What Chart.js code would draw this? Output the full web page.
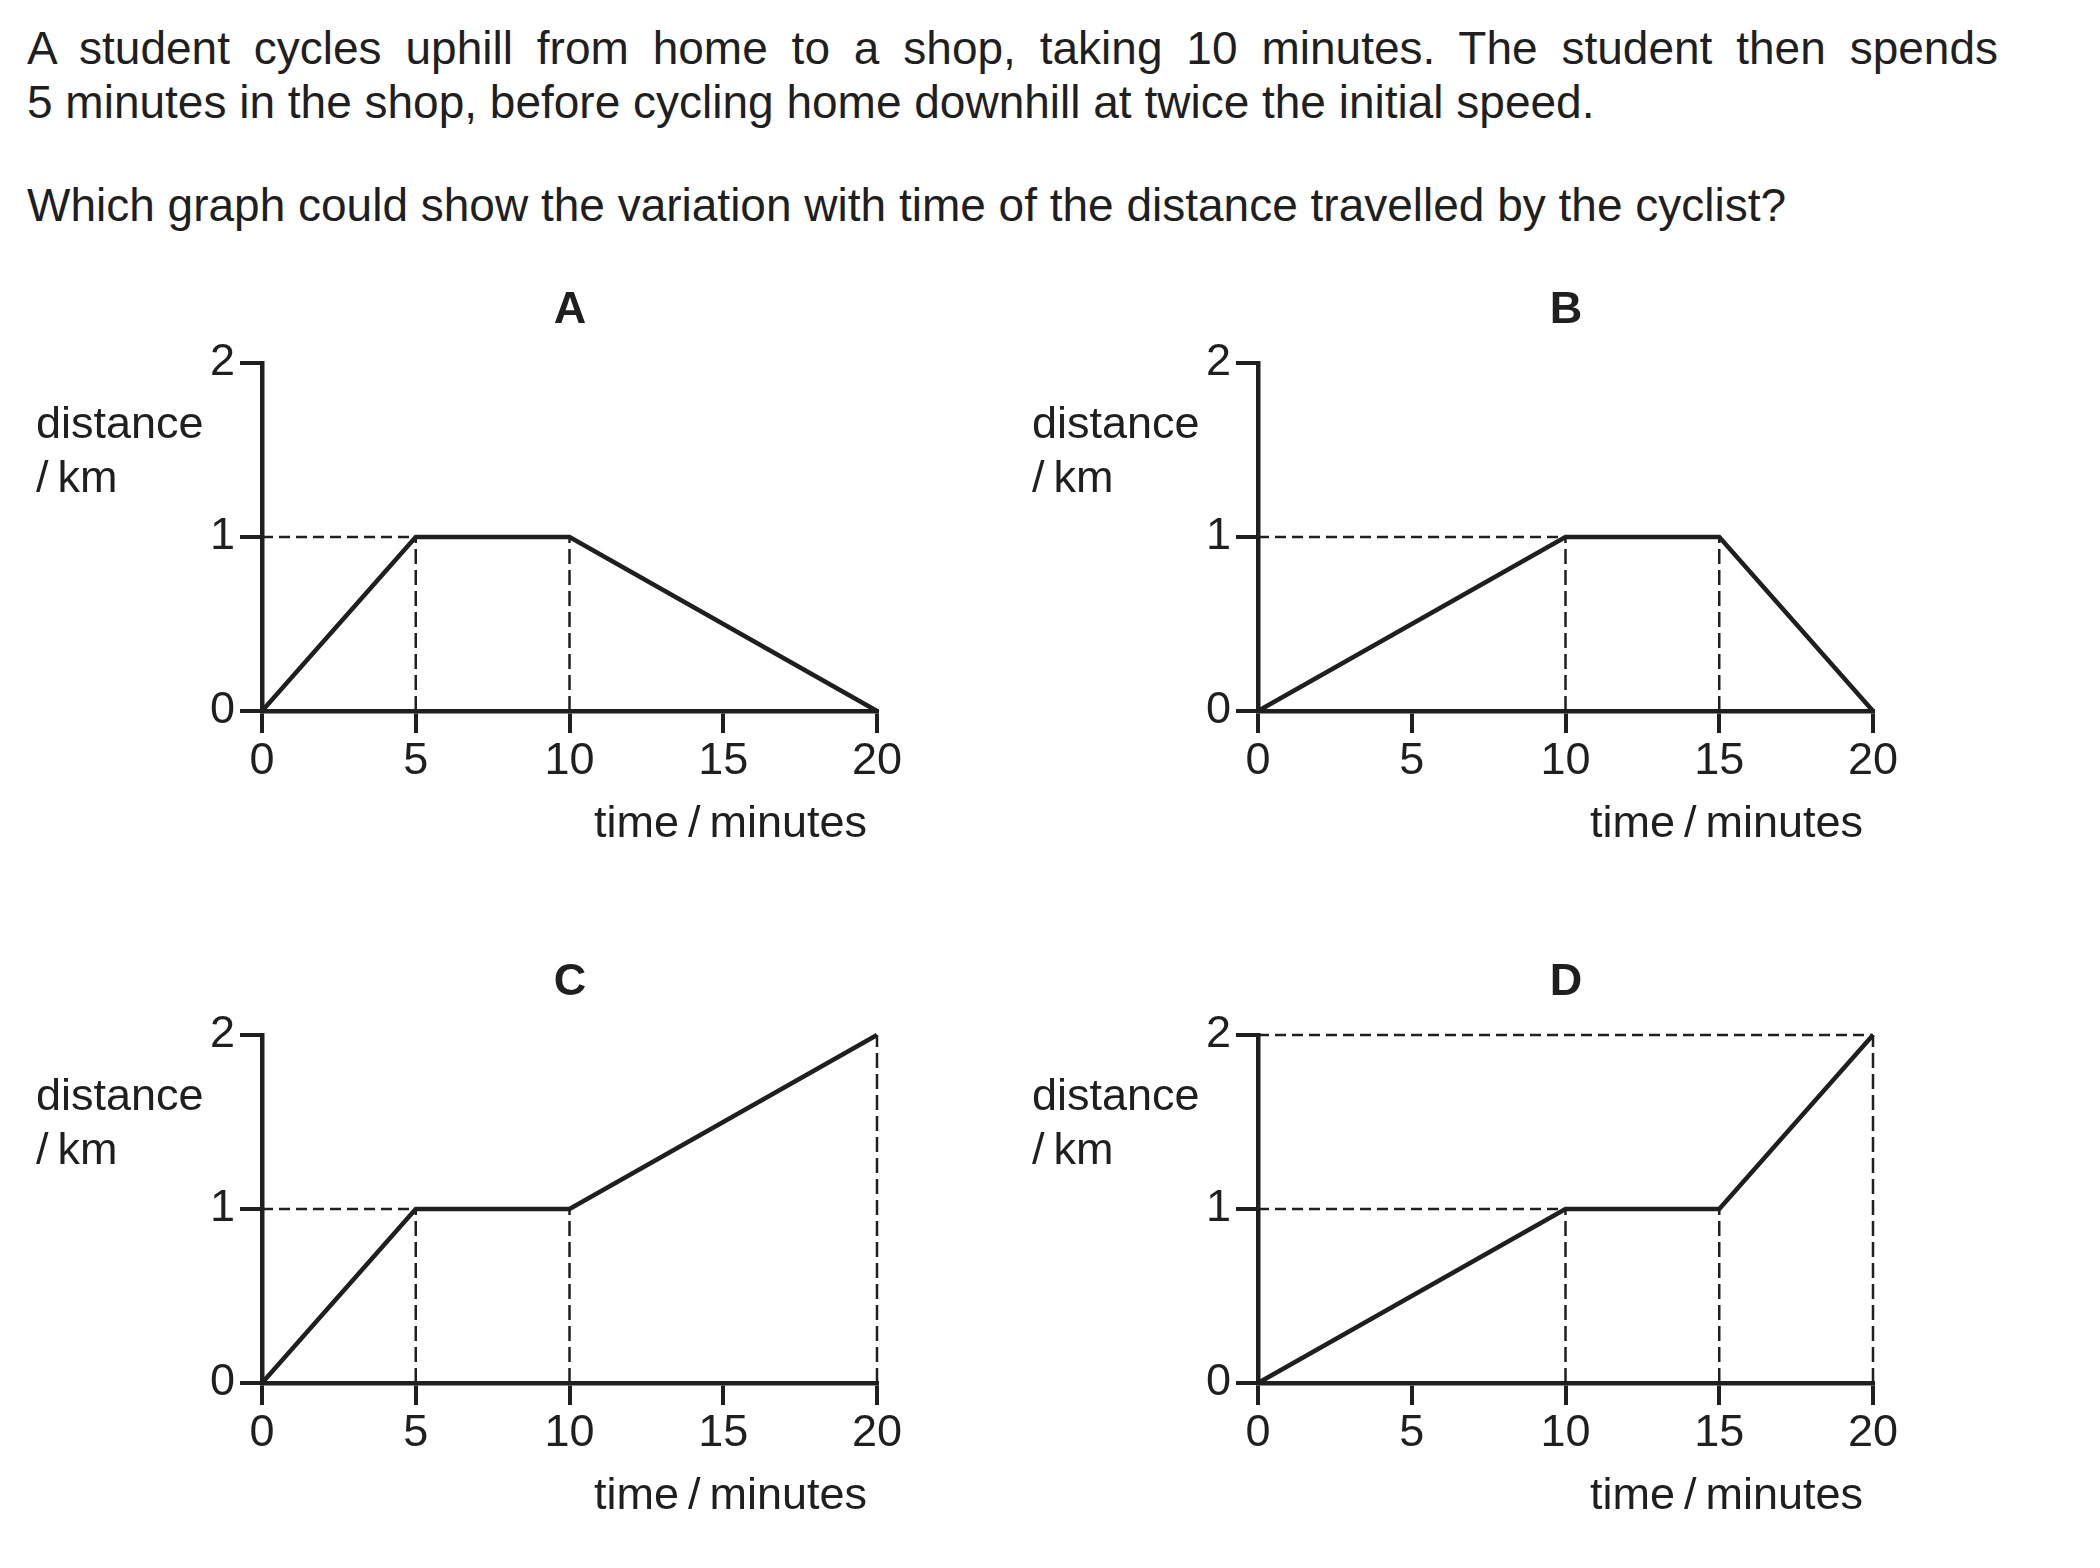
<!DOCTYPE html>
<html>
<head>
<meta charset="utf-8">
<script src="https://cdn.jsdelivr.net/npm/chart.js@4.4.1/dist/chart.umd.min.js"></script>
<style>
  html, body { margin:0; padding:0; background:#fff; }
  body { width:2100px; height:1568px; position:relative; overflow:hidden;
         font-family:"Liberation Sans", Arial, sans-serif; color:#1f1f1f; }
  .t { position:absolute; white-space:nowrap; font-size:45px; line-height:54px; height:54px; }
  .q { font-size:46px; }
  .title { font-weight:bold; text-align:center; width:100px; }
  canvas { position:absolute; }
</style>
</head>
<body>
<div class="t q" style="left:27px; top:21px; width:1971px; text-align:justify; text-align-last:justify;">A student cycles uphill from home to a shop, taking 10 minutes. The student then spends</div>
<div class="t q" style="left:27px; top:75px;">5 minutes in the shop, before cycling home downhill at twice the initial speed.</div>
<div class="t q" style="left:27px; top:178px;">Which graph could show the variation with time of the distance travelled by the cyclist?</div>

<canvas id="cA" width="900" height="560"></canvas>
<canvas id="cB" width="900" height="560"></canvas>
<canvas id="cC" width="900" height="560"></canvas>
<canvas id="cD" width="900" height="560"></canvas>

<script>
// ---- data ----
const panelNames = ["A", "B", "C", "D"];
const xTicks = [0, 5, 10, 15, 20];
const yTicks = [0, 1, 2];
const xLabel = "time\u2009/\u2009minutes";
const yLabel1 = "distance";
const yLabel2 = "/\u2009km";

const timeA = [0, 5, 10, 20];
const distA = [0, 1, 1, 0];
const timeB = [0, 10, 15, 20];
const distB = [0, 1, 1, 0];
const timeC = [0, 5, 10, 20];
const distC = [0, 1, 1, 2];
const timeD = [0, 10, 15, 20];
const distD = [0, 1, 1, 2];

// dashed guide lines, in data units: [x1, y1, x2, y2]
const guidesA = [[0, 1, 5, 1], [5, 0, 5, 1], [10, 0, 10, 1]];
const guidesB = [[0, 1, 10, 1], [10, 0, 10, 1], [15, 0, 15, 1]];
const guidesC = [[0, 1, 5, 1], [5, 0, 5, 1], [10, 0, 10, 1], [20, 0, 20, 2]];
const guidesD = [[0, 2, 20, 2], [0, 1, 10, 1], [10, 0, 10, 1], [15, 0, 15, 1], [20, 0, 20, 2]];

// ---- layout (page px of chart area) ----
const INK = "#1f1f1f";
const FONT = "'Liberation Sans', Arial, sans-serif";
const areaW = 615, areaH = 348;
const offX = 220, offY = 60, canvasW = 900, canvasH = 560;
const panels = [
  { id: "cA", left: 262, top: 363, t: timeA, d: distA, g: guidesA },
  { id: "cB", left: 1258, top: 363, t: timeB, d: distB, g: guidesB },
  { id: "cC", left: 262, top: 1035, t: timeC, d: distC, g: guidesC },
  { id: "cD", left: 1258, top: 1035, t: timeD, d: distD, g: guidesD }
];

function addText(txt, left, top, cls, extra) {
  const el = document.createElement("div");
  el.className = "t " + (cls || "");
  el.textContent = txt;
  el.style.left = left + "px";
  el.style.top = top + "px";
  if (extra) Object.assign(el.style, extra);
  document.body.appendChild(el);
}

panels.forEach((p, i) => {
  const cv = document.getElementById(p.id);
  cv.style.left = (p.left - offX) + "px";
  cv.style.top = (p.top - offY) + "px";

  const main = {
    data: p.t.map((x, k) => ({ x: x, y: p.d[k] })),
    borderColor: INK, borderWidth: 4.5, pointRadius: 0, tension: 0,
    borderJoinStyle: "miter", borderCapStyle: "butt", clip: false, fill: false
  };
  const guides = p.g.map(s => ({
    data: [{ x: s[0], y: s[1] }, { x: s[2], y: s[3] }],
    borderColor: INK, borderWidth: 2.5, pointRadius: 0, tension: 0,
    borderDash: s[1] === s[3] ? [11, 6] : [15, 6],
    borderCapStyle: "butt", clip: false, fill: false
  }));

  new Chart(cv, {
    type: "line",
    data: { datasets: [main].concat(guides) },
    options: {
      responsive: false, animation: false, events: [],
      layout: { padding: { left: offX - 100, top: offY, right: canvasW - offX - areaW, bottom: canvasH - offY - areaH - 80 } },
      plugins: { legend: { display: false }, tooltip: { enabled: false }, title: { display: false } },
      scales: {
        x: {
          type: "linear", min: 0, max: 20,
          afterBuildTicks: s => { s.ticks = xTicks.map(v => ({ value: v })); },
          afterFit: s => { s.height = 80; },
          grid: { display: true, drawOnChartArea: false, drawTicks: true, tickLength: 22, lineWidth: 4, color: INK },
          border: { display: true, width: 4.5, color: INK },
          ticks: { color: INK, font: { family: FONT, size: 45 }, padding: 2, maxRotation: 0, autoSkip: false }
        },
        y: {
          type: "linear", min: 0, max: 2,
          afterBuildTicks: s => { s.ticks = yTicks.map(v => ({ value: v })); },
          afterFit: s => { s.width = 100; },
          grid: { display: true, drawOnChartArea: false, drawTicks: true, tickLength: 22, lineWidth: 4, color: INK },
          border: { display: true, width: 4.5, color: INK },
          ticks: { color: INK, font: { family: FONT, size: 45 }, padding: 5, autoSkip: false }
        }
      }
    }
  });

  // texts around the panel
  addText(panelNames[i], p.left + 308 - 50, p.top - 55 - 27, "title");
  addText(yLabel1, p.left - 226, p.top + 60 - 27);
  addText(yLabel2, p.left - 226, p.top + 114 - 27);
  addText(xLabel, p.left + 332, p.top + 459 - 27);
});
</script>
</body>
</html>
